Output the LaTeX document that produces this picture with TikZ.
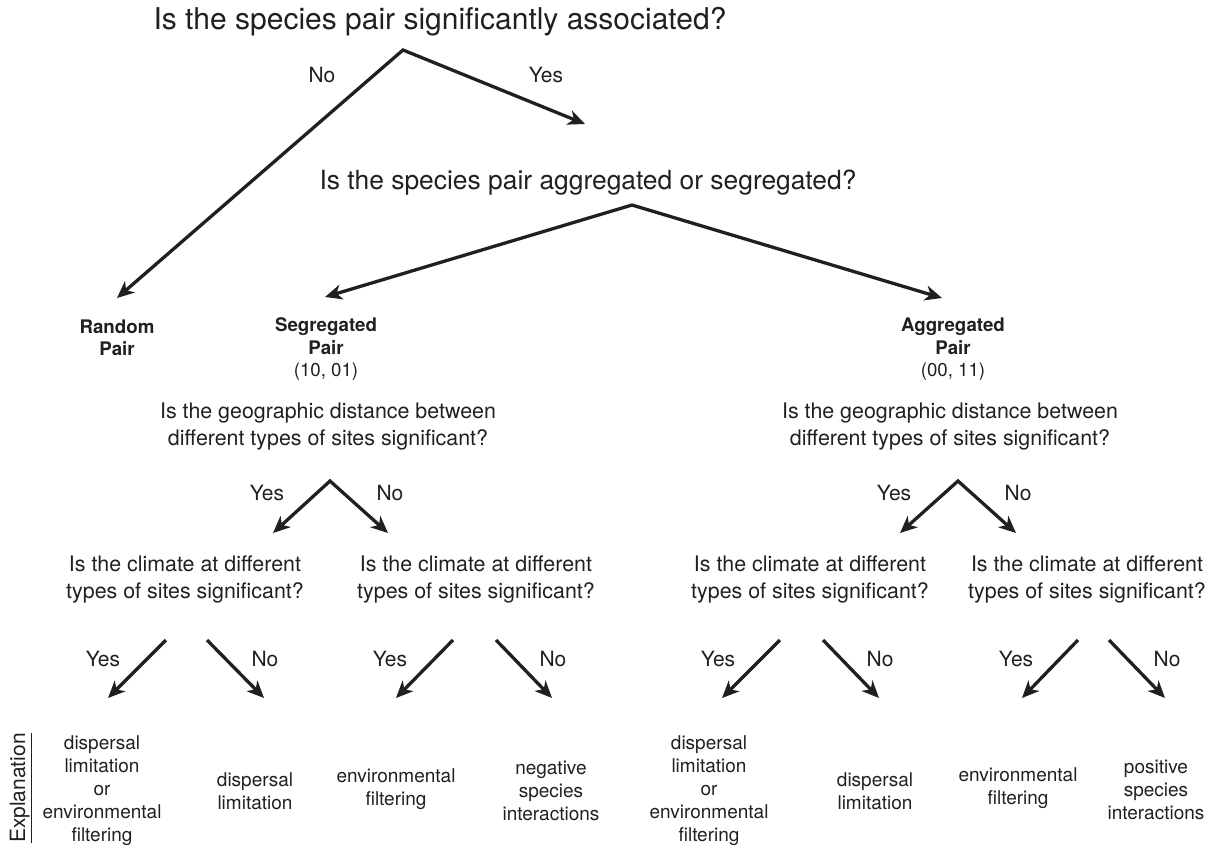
\documentclass[tikz,border=0pt]{standalone}
\usepackage{fontspec}
\setmainfont{TeX Gyre Heros}
\usetikzlibrary{arrows.meta}
\definecolor{ink}{HTML}{231F20}
\begin{document}
\begin{tikzpicture}[x=1pt,y=-1pt,
  every node/.style={inner sep=0pt, text=ink, align=center},
  titleA/.style={font=\fontsize{30}{36}\selectfont},
  titleB/.style={font=\fontsize{26.4}{32}\selectfont},
  quest/.style={font=\fontsize{21.4}{27}\selectfont},
  yn/.style={font=\fontsize{21}{25}\selectfont},
  pairlbl/.style={font=\fontsize{18.7}{22.5}\selectfont},
  expl/.style={font=\fontsize{19}{23}\selectfont},
  tipstyle/.style={},
  arr/.style={draw=ink, line width=3.3pt, line join=miter,
    {Stealth[length=17pt,width=15pt,inset=5pt]}-{Stealth[length=17pt,width=15pt,inset=5pt]}},
  arrone/.style={draw=ink, line width=3.3pt, -{Stealth[length=17pt,width=15pt,inset=5pt]}},
]
\useasboundingbox (0,0) rectangle (1210,844);

% level 0
\node[titleA] (t1) at (440,22) {Is the species pair significantly associated?};
\coordinate (a1) at (403,50);
\coordinate (rndtip) at (117,298);
\coordinate (yestip) at (585,124);
\draw[arr] (rndtip) -- (a1) -- (yestip);
\node[yn] (no1) at (322,75) {No};
\node[yn] (yes1) at (546,75) {Yes};

% level 1
\node[titleB] (t2) at (588,183) {Is the species pair aggregated or segregated?};
\coordinate (a2) at (632,205);
\coordinate (segtip) at (325,297);
\coordinate (aggtip) at (942,298);
\draw[arr] (segtip) -- (a2) -- (aggtip);

\node[pairlbl, font=\fontsize{18.7}{22.5}\selectfont\bfseries] (rnd) at (117,338) {Random\\Pair};
\node[pairlbl] (seg) at (326,349.5) {\textbf{Segregated}\\\textbf{Pair}\\(10, 01)};
\node[pairlbl] (agg) at (953,349.5) {\textbf{Aggregated}\\\textbf{Pair}\\(00, 11)};

% level 2
\node[quest] (qL) at (328,427) {Is the geographic distance between\\different types of sites significant?};
\node[quest] (qR) at (950,427) {Is the geographic distance between\\different types of sites significant?};

\coordinate (aL) at (330,481);
\coordinate (aLy) at (273,533);
\coordinate (aLn) at (388,533);
\draw[arr] (aLy) -- (aL) -- (aLn);
\node[yn] (yL) at (267,493) {Yes};
\node[yn] (nL) at (390,493) {No};

\coordinate (aR) at (958,481);
\coordinate (aRy) at (900,533);
\coordinate (aRn) at (1016,533);
\draw[arr] (aRy) -- (aR) -- (aRn);
\node[yn] (yR) at (894,493) {Yes};
\node[yn] (nR) at (1018,493) {No};

% level 3
\node[quest] (c1) at (185,579.5) {Is the climate at different\\types of sites significant?};
\node[quest] (c2) at (476,579.5) {Is the climate at different\\types of sites significant?};
\node[quest] (c3) at (810,579.5) {Is the climate at different\\types of sites significant?};
\node[quest] (c4) at (1087,579.5) {Is the climate at different\\types of sites significant?};

% level 4 arrows
\coordinate (g1ys) at (166,640); \coordinate (g1ye) at (108,698);
\coordinate (g1ns) at (207,640); \coordinate (g1ne) at (264,698);
\coordinate (g2ys) at (453,640); \coordinate (g2ye) at (396,698);
\coordinate (g2ns) at (496,640); \coordinate (g2ne) at (552,698);
\coordinate (g3ys) at (780,640); \coordinate (g3ye) at (722,698);
\coordinate (g3ns) at (823,640); \coordinate (g3ne) at (879,698);
\coordinate (g4ys) at (1078,640); \coordinate (g4ye) at (1022,698);
\coordinate (g4ns) at (1109,640); \coordinate (g4ne) at (1165,698);
\foreach \g in {g1,g2,g3,g4}{
  \draw[arrone] (\g ys) -- (\g ye);
  \draw[arrone] (\g ns) -- (\g ne);
}
\node[yn] (y1) at (103,659) {Yes};
\node[yn] (n1) at (265,659) {No};
\node[yn] (y2) at (390,659) {Yes};
\node[yn] (n2) at (553,659) {No};
\node[yn] (y3) at (718,659) {Yes};
\node[yn] (n3) at (880,659) {No};
\node[yn] (y4) at (1016,659) {Yes};
\node[yn] (n4) at (1167,659) {No};

% explanations
\node[expl] (e1) at (102,791) {dispersal\\limitation\\or\\environmental\\filtering};
\node[expl] (e2) at (255,791) {dispersal\\limitation};
\node[expl] (e3) at (396,789.5) {environmental\\filtering};
\node[expl] (e4) at (551,790.5) {negative\\species\\interactions};
\node[expl] (e5) at (709,791) {dispersal\\limitation\\or\\environmental\\filtering};
\node[expl] (e6) at (875,791) {dispersal\\limitation};
\node[expl] (e7) at (1018,788.5) {environmental\\filtering};
\node[expl] (e8) at (1156,790) {positive\\species\\interactions};

\node[font=\fontsize{21}{25}\selectfont, rotate=90, anchor=base] (ex) at (25,788) {\underline{Explanation}};
\end{tikzpicture}
\end{document}
